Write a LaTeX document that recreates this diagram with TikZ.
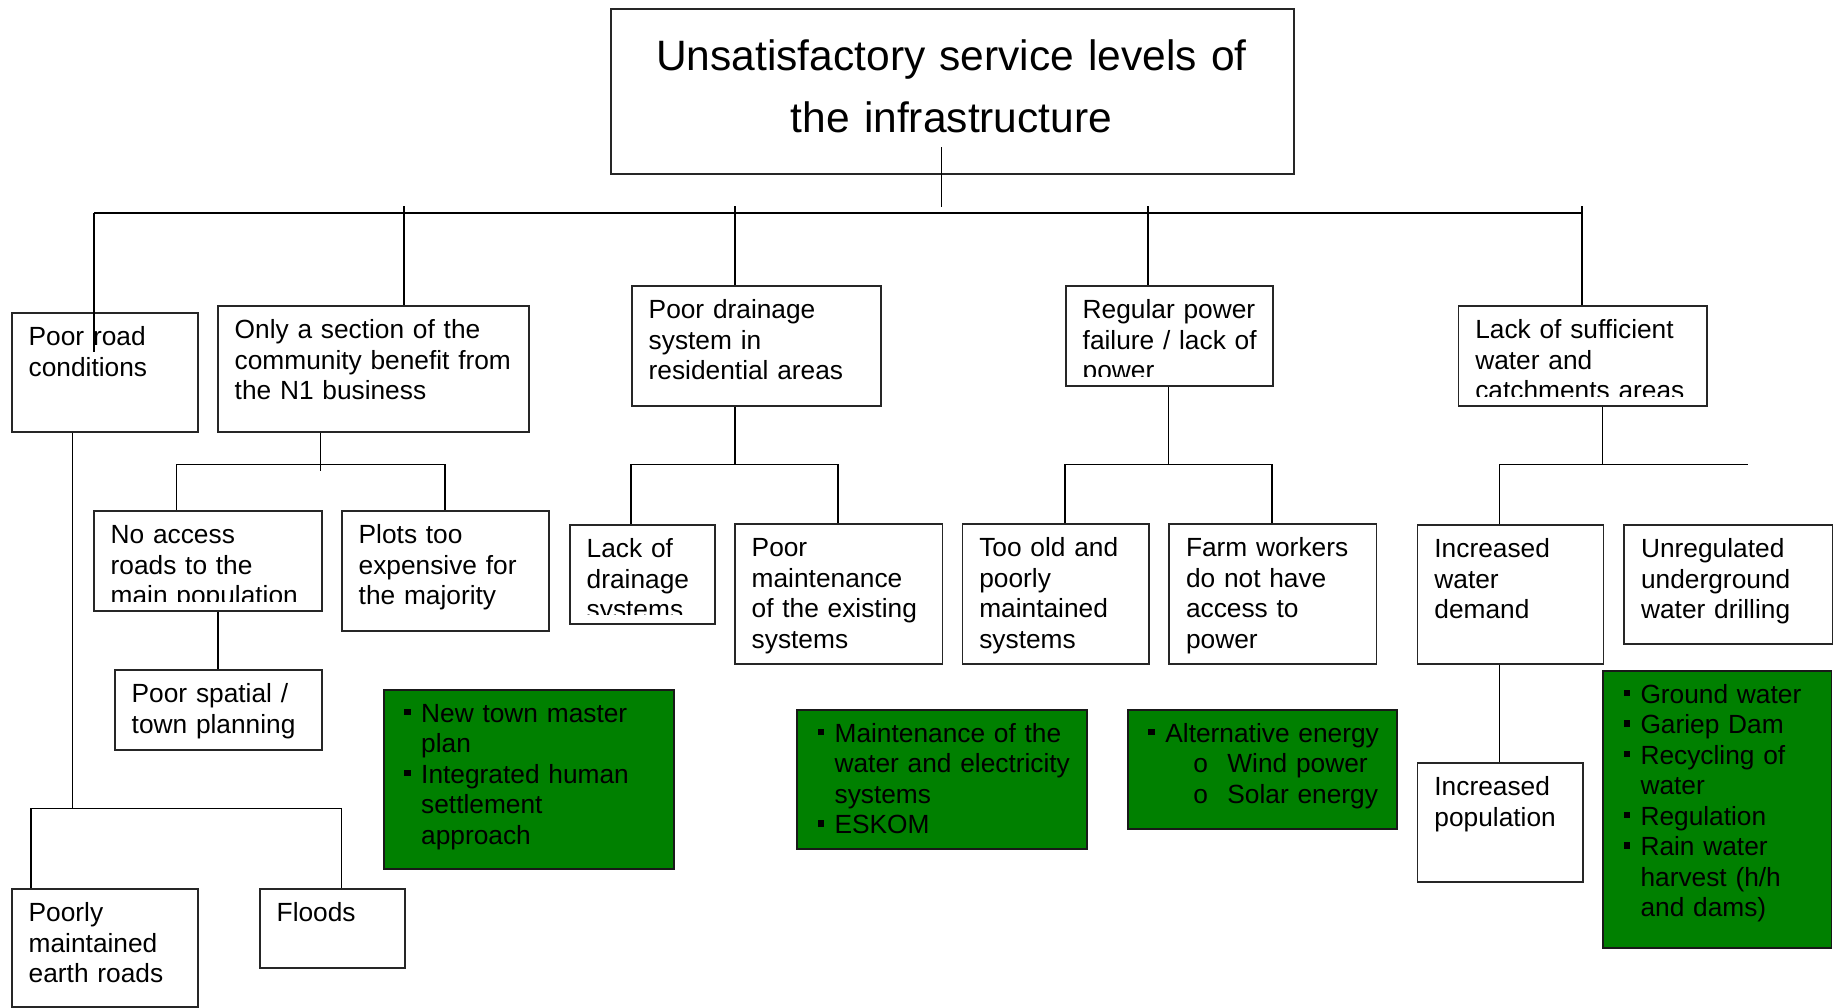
\documentclass[tikz,border=0pt]{standalone}
\usepackage{fontspec}
\setmainfont{Liberation Sans}
\definecolor{leaf}{RGB}{0,128,0}
\tikzset{
  boxst/.style={draw=black!85, line width=1.6pt, inner sep=0pt, fill=white},
  greenst/.style={draw=black!90, line width=1.6pt, inner sep=0pt, fill=leaf},
  txt/.style={inner sep=0pt, align=left, font=\fontsize{26.3}{30.5}\selectfont},
  conn/.style={line width=1.5pt, draw=black},
  busst/.style={line width=1.7pt, draw=black},
}
\newcommand\tbox[6]{%
  \pgfmathsetmacro\bw{#4-#2}\pgfmathsetmacro\bh{#5-#3}%
  \node[boxst, anchor=north west, minimum width=\bw pt, minimum height=\bh pt] (#1) at (#2,#3) {};
  \begin{scope}
    \clip (#2,#3) rectangle (#4,#5-8.5);
    \node[txt, anchor=base west, text width=\bw pt] (#1-t) at (#2+17.5,#3+33.5) {#6};
  \end{scope}}
\newcommand\gbox[6]{%
  \pgfmathsetmacro\bw{#4-#2}\pgfmathsetmacro\bh{#5-#3}%
  \node[greenst, anchor=north west, minimum width=\bw pt, minimum height=\bh pt] (#1) at (#2,#3) {};
  \node[txt, anchor=base west, text width=\bw pt] (#1-t) at (#2+21,#3+33) {#6};}
\newcommand\gbul{\makebox[17pt][l]{\rule[7pt]{6.5pt}{6.5pt}}}
\newcommand\indt{\hspace*{17pt}}
\newcommand\subbul{\hspace*{45pt}\makebox[34pt][l]{o}}
\begin{document}
\begin{tikzpicture}[x=1pt,y=-1pt]
\useasboundingbox (0,0) rectangle (1835,1007);
\fill[white] (0,0) rectangle (1835,1007);

% title
\node[boxst, anchor=north west, minimum width=683pt, minimum height=165pt] (title) at (610,8) {};
\node[inner sep=0pt, align=center, text width=683pt, anchor=base,
      font=\fontsize{42.5}{62}\selectfont] (title-t) at (951.5,70.7)
      {Unsatisfactory service levels of\\the infrastructure};

% white boxes
\tbox{road}{11}{312}{197}{431}{Poor road\\conditions}
\tbox{only}{217}{305}{528}{431}{Only a section of the\\community benefit from\\the N1 business}
\tbox{access}{93}{510}{321}{610}{No access\\roads to the\\main population}
\tbox{plots}{341}{510}{548}{630}{Plots too\\expensive for\\the majority}
\tbox{spatial}{114}{669}{321}{749}{Poor spatial /\\town planning}
\tbox{earth}{11}{888}{197}{1006}{Poorly\\maintained\\earth roads}
\tbox{floods}{259}{888}{404}{967}{Floods}
\tbox{drain}{631}{285}{880}{405}{Poor drainage\\system in\\residential areas}
\tbox{lackd}{569}{524}{714}{623}{Lack of\\drainage\\systems}
\tbox{maint}{734}{523}{941.5}{663}{Poor\\maintenance\\of the existing\\systems}
\tbox{power}{1065}{285}{1272}{385}{Regular power\\failure / lack of\\power}
\tbox{tooold}{961.6}{523}{1148.2}{663}{Too old and\\poorly\\maintained\\systems}
\tbox{farm}{1168.3}{523}{1375.7}{663}{Farm workers\\do not have\\access to\\power}
\tbox{water}{1457.6}{305}{1706.4}{405}{Lack of sufficient\\water and\\catchments areas}
\tbox{incw}{1416.7}{524}{1602.6}{663}{Increased\\water\\demand}
\tbox{unreg}{1623.4}{524}{1831.6}{643}{Unregulated\\underground\\water drilling}
\tbox{incp}{1416.7}{762}{1582}{881}{Increased\\population}

% green boxes
\gbox{gone}{383}{689}{673}{868}{\gbul New town master\\\indt plan\\\gbul Integrated human\\\indt settlement\\\indt approach}
\gbox{gtwo}{796.4}{709}{1086.3}{848.3}{\gbul Maintenance of the\\\indt water and electricity\\\indt systems\\\gbul ESKOM}
\gbox{gthree}{1127.2}{709}{1396.4}{828.3}{\gbul Alternative energy\\\subbul Wind power\\\subbul Solar energy}
\gbox{gfour}{1602.3}{670}{1830.7}{947.3}{\gbul Ground water\\\gbul Gariep Dam\\\gbul Recycling of\\\indt water\\\gbul Regulation\\\gbul Rain water\\\indt harvest (h/h\\\indt and dams)}

% junction coordinates
\coordinate (j0) at (941.5,147);
\coordinate (j0b) at (941.5,207);
\coordinate (bA) at (94,213);
\coordinate (bB) at (1582,213);
\coordinate (r0) at (94,352);
\coordinate (t1) at (404,206);
\coordinate (t2) at (734.8,206);
\coordinate (t3) at (1148.2,206);
\coordinate (t4) at (1581.8,206);
\coordinate (rd) at (72.7,808.3);
\coordinate (e1) at (31.2,808.3);
\coordinate (e2) at (341.6,808.3);
\coordinate (o1) at (320.7,470.7);
\coordinate (o2) at (176.4,464.3);
\coordinate (o3) at (445,464.3);
\coordinate (a1) at (217.8,640);
\coordinate (d1) at (734.8,464.3);
\coordinate (d2) at (631,464.3);
\coordinate (d3) at (838,464.3);
\coordinate (p1) at (1168.3,464.3);
\coordinate (p2) at (1065.2,464.3);
\coordinate (p3) at (1271.9,464.3);
\coordinate (w1) at (1602.6,464.3);
\coordinate (w2) at (1499.3,464.3);
\coordinate (w3) at (1748,464.3);

% connectors
\draw[conn] (j0) -- (j0b);
\draw[busst] (bA) -- (bB);
\draw[conn] (bA) -- (r0);
\draw[conn] (t1) -- (t1 |- only.north);
\draw[conn] (t2) -- (t2 |- drain.north);
\draw[conn] (t3) -- (t3 |- power.north);
\draw[conn] (t4) -- (t4 |- water.north);

\draw[conn] (rd |- road.south) -- (rd);
\draw[conn] (e1 |- earth.north) -- (e1) -- (e2) -- (e2 |- floods.north);

\draw[conn] (o1 |- only.south) -- (o1);
\draw[conn] (o2 |- access.north) -- (o2) -- (o3) -- (o3 |- plots.north);
\draw[conn] (a1 |- access.south) -- (a1 |- spatial.north);

\draw[conn] (d1 |- drain.south) -- (d1);
\draw[conn] (d2 |- lackd.north) -- (d2) -- (d3) -- (d3 |- maint.north);

\draw[conn] (p1 |- power.south) -- (p1);
\draw[conn] (p2 |- tooold.north) -- (p2) -- (p3) -- (p3 |- farm.north);

\draw[conn] (w1 |- water.south) -- (w1);
\draw[conn] (w2 |- incw.north) -- (w2) -- (w3);
\draw[conn] (w2 |- incw.south) -- (w2 |- incp.north);
\end{tikzpicture}
\end{document}
